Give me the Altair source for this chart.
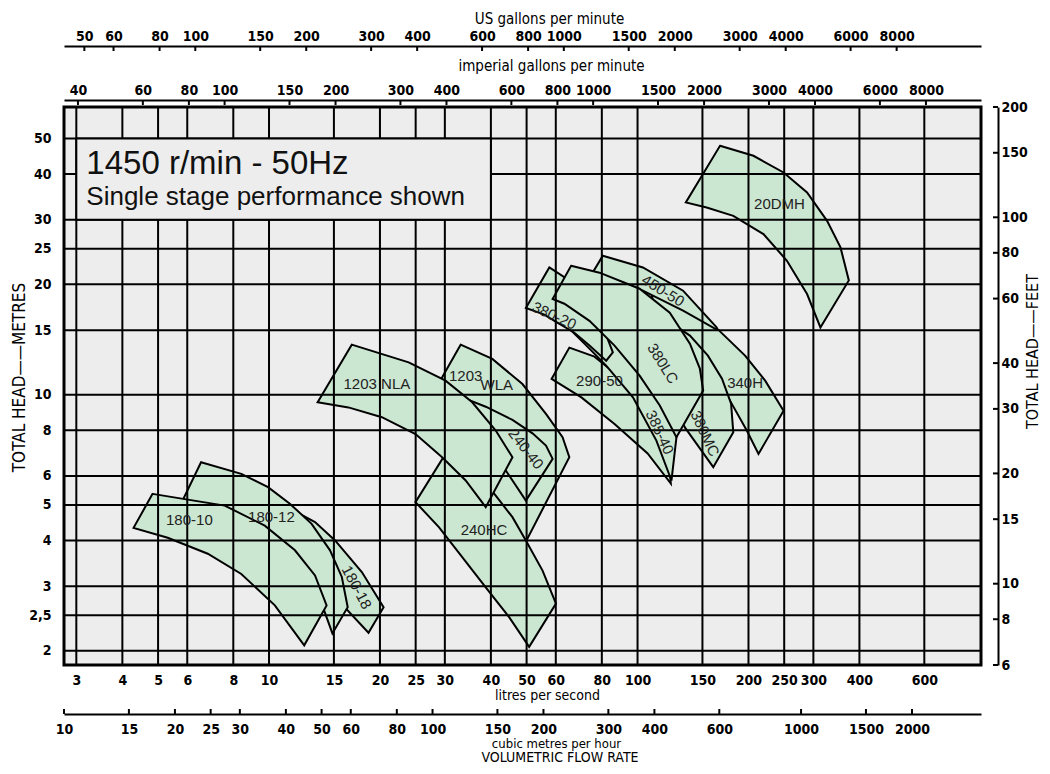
import altair as alt
import pandas as pd

# ---------------- unit conversions ----------------
LPS_PER_USGPM = 0.0630902
LPS_PER_IMPGPM = 0.0757682
LPS_PER_M3H = 1 / 3.6
M_PER_FT = 0.3048

# ---------------- axis tick values ----------------
LPS_TICKS = [3, 4, 5, 6, 8, 10, 15, 20, 25, 30, 40, 50, 60, 80, 100, 150, 200, 250, 300, 400, 600]
M3H_TICKS = [10, 15, 20, 25, 30, 40, 50, 60, 80, 100, 150, 200, 300, 400, 600, 1000, 1500, 2000]
USGPM_TICKS = [50, 60, 80, 100, 150, 200, 300, 400, 600, 800, 1000, 1500, 2000, 3000, 4000, 6000, 8000]
IMPGPM_TICKS = [40, 60, 80, 100, 150, 200, 300, 400, 600, 800, 1000, 1500, 2000, 3000, 4000, 6000, 8000]
HEAD_M_TICKS = [2, 2.5, 3, 4, 5, 6, 8, 10, 15, 20, 25, 30, 40, 50]
HEAD_FT_TICKS = [6, 8, 10, 15, 20, 30, 40, 60, 80, 100, 150, 200]

# ---------------- pump envelopes (flow l/s, head m) ----------------
Q_180_18 = [11.63, 13.33, 15.11, 17.86, 20.46, 18.62, 16.32, 14.95, 13.19, 12.0]
H_180_18 = [4.83, 4.49, 4.00, 3.28, 2.63, 2.24, 2.58, 3.01, 3.64, 4.05]
Q_180_12 = [6.54, 8.41, 9.94, 11.39, 13.05, 14.64, 15.76, 16.35, 14.86, 13.95, 12.46, 10.6, 8.5, 6.82, 5.83]
H_180_12 = [6.54, 6.08, 5.59, 5.04, 4.44, 3.76, 3.18, 2.63, 2.23, 2.66, 3.27, 3.88, 4.48, 4.95, 5.15]
Q_180_10 = [4.83, 7.58, 9.74, 11.76, 13.33, 14.33, 12.46, 10.37, 8.41, 6.82, 5.31, 4.29]
H_180_10 = [5.36, 4.98, 4.39, 3.76, 3.21, 2.66, 2.07, 2.66, 3.24, 3.68, 4.07, 4.33]
Q_1203WLA = [33.11, 40.36, 48.72, 56.43, 62.6, 65.3, 49.77, 42.1, 36.37, 31.74, 27.14]
H_1203WLA = [13.69, 12.52, 10.69, 8.86, 7.65, 6.75, 3.97, 4.98, 5.98, 7.26, 9.63]
Q_240HC = [31.09, 36.37, 41.23, 45.77, 49.77, 55.24, 60.07, 50.8, 44.83, 38.73, 33.44, 28.9, 24.97]
H_240HC = [7.26, 6.21, 5.30, 4.63, 4.00, 3.31, 2.69, 2.05, 2.47, 2.98, 3.60, 4.35, 5.09]
Q_240_40 = [33.44, 38.73, 45.77, 51.88, 56.43, 58.83, 49.77, 43.9, 38.73, 34.17]
H_240_40 = [9.83, 9.27, 8.53, 7.84, 7.26, 6.68, 5.14, 6.21, 7.41, 8.59]
Q_1203NLA = [16.77, 23.93, 30.13, 35.6, 41.23, 45.77, 38.73, 34.17, 29.49, 24.97, 20.24, 16.42, 13.55]
H_1203NLA = [13.69, 12.25, 10.92, 9.53, 7.98, 6.75, 4.93, 5.83, 6.75, 7.81, 8.68, 9.23, 9.53]
Q_340H = [107.9, 132.9, 163.9, 195.8, 222.0, 249.0, 212.9, 197.9, 178.2, 167.4, 147.6, 130.2, 111.3]
H_340H = [20.08, 18.28, 15.19, 12.78, 10.92, 9.04, 6.89, 7.98, 9.63, 10.92, 12.78, 14.49, 16.95]
Q_450_50 = [80.48, 103.4, 132.9, 163.9, 163.9, 132.9, 103.4, 78.83, 75.6]
H_450_50 = [23.94, 22.24, 19.22, 15.26, 15.05, 16.95, 19.22, 21.34, 21.56]
Q_380MC = [101.3, 118.5, 138.7, 155.2, 169.5, 179.4, 181.9, 160.5, 145.8, 134.4, 122.3, 107.9, 93.98]
H_380MC = [18.05, 16.12, 14.49, 12.78, 11.06, 9.45, 7.89, 6.34, 7.26, 8.14, 9.94, 12.0, 14.49]
Q_290_50 = [65.31, 76.4, 92.2, 107.9, 118.5, 122.3, 123.1, 106.5, 86.61, 70.41, 58.45]
H_290_50 = [13.44, 12.7, 10.92, 8.76, 7.04, 6.21, 5.72, 6.91, 8.32, 9.83, 11.04]
Q_385_40 = [65.31, 76.4, 92.2, 107.9, 122.3, 128.6, 123.6, 112.5, 97.17, 82.22, 71.75, 61.34]
H_385_40 = [19.22, 17.49, 14.95, 12.38, 9.94, 8.23, 5.83, 7.49, 9.83, 12.0, 13.78, 16.12]
Q_380_20 = [57.62, 65.31, 74.05, 81.34, 85.7, 82.22, 74.05, 67.4, 60.58, 55.83, 49.77]
H_380_20 = [22.24, 20.5, 17.49, 14.95, 13.04, 12.38, 13.61, 14.76, 15.72, 16.53, 17.24]
Q_380LC = [66.01, 78.83, 101.3, 122.3, 138.7, 147.6, 150.7, 127.5, 114.9, 101.3, 86.61, 74.05, 63.31, 58.83]
H_380LC = [22.47, 21.52, 19.46, 16.74, 13.78, 11.78, 10.26, 7.65, 9.34, 11.27, 13.61, 15.9, 17.71, 18.24]
Q_20DMH = [167.4, 206.3, 249.0, 288.4, 326.8, 355.4, 374.4, 313.5, 288.4, 254.3, 219.6, 181.9, 154.0, 135.2]
H_20DMH = [47.76, 44.86, 40.4, 35.62, 29.8, 25.23, 20.5, 15.26, 18.82, 23.2, 27.44, 30.77, 32.42, 33.46]

# drawing order: first = underneath
PUMPS = [
    ("180-18", Q_180_18, H_180_18),
    ("180-12", Q_180_12, H_180_12),
    ("180-10", Q_180_10, H_180_10),
    ("1203 WLA", Q_1203WLA, H_1203WLA),
    ("240HC", Q_240HC, H_240HC),
    ("240-40", Q_240_40, H_240_40),
    ("1203 NLA", Q_1203NLA, H_1203NLA),
    ("340H", Q_340H, H_340H),
    ("450-50", Q_450_50, H_450_50),
    ("380MC", Q_380MC, H_380MC),
    ("290-50", Q_290_50, H_290_50),
    ("385-40", Q_385_40, H_385_40),
    ("380-20", Q_380_20, H_380_20),
    ("380LC", Q_380LC, H_380LC),
    ("20DMH", Q_20DMH, H_20DMH),
]

# ---------------- envelope labels ----------------
LABEL_TEXT = ["180-10", "180-12", "180-18", "1203 NLA", "1203", "WLA", "240-40", "240HC", "20DMH",
              "450-50", "340H", "380LC", "380MC", "385-40", "290-50", "380-20"]
LABEL_Q = [6.08, 10.15, 17.3, 19.62, 34.17, 41.5, 49.77, 38.32, 242.8,
           117.3, 195.8, 117.1, 152.3, 114.9, 78.83, 59.44]
LABEL_H = [4.56, 4.63, 2.98, 10.69, 11.22, 10.65, 7.11, 4.28, 33.24,
           19.22, 10.78, 12.15, 7.83, 7.89, 10.92, 16.42]
LABEL_ANGLE = [0, 0, 62, 0, 0, 0, 52, 0, 0,
               32, 0, 58, 65, 65, 0, 25]

# ---------------- styling ----------------
GREEN = "#cbe6d1"
BG = "#ededed"
AXF = "Liberation Sans Narrow, DejaVu Sans Condensed, sans-serif"
TXF = "Liberation Sans, Arial, sans-serif"
W, H = 917, 558

xs = alt.Scale(type="log", domain=[10 * LPS_PER_M3H, 855], nice=False)
ys = alt.Scale(type="log", domain=[6 * M_PER_FT, 200 * M_PER_FT], nice=False)

lab = dict(labelFont=AXF, labelFontSize=14, labelFontWeight="bold", labelColor="black",
           labelFlush=False, labelOverlap=False, labelBound=False,
           titleFont=AXF, titleColor="black", grid=False)

rows = []
for k, (name, qs, hs) in enumerate(PUMPS):
    for i, (q, h) in enumerate(zip(qs, hs)):
        rows.append({"pid": f"{k:02d}", "name": name, "i": i, "q": q, "h": h})
poly_df = pd.DataFrame(rows)

polys = alt.Chart(poly_df).mark_line(
    interpolate="linear-closed", fill=GREEN, stroke="black", strokeWidth=2, strokeJoin="miter"
).encode(
    x=alt.X("q:Q", scale=xs, axis=alt.Axis(
        orient="bottom", values=LPS_TICKS, domain=False, ticks=False, labelPadding=8,
        format="~g", title="litres per second", titleX=483, titleY=30, titleFontSize=14,
        titleFontWeight="normal", titleBaseline="middle", titleAlign="center", **lab)),
    y=alt.Y("h:Q", scale=ys, axis=alt.Axis(
        orient="left", values=HEAD_M_TICKS, domain=False, ticks=False, labelPadding=13,
        labelExpr="datum.value == 2.5 ? '2,5' : format(datum.value, '~g')",
        title="TOTAL HEAD——METRES", titleAngle=270, titleX=-45, titleY=270,
        titleFontSize=17, titleFontWeight="normal", titleBaseline="middle",
        titleAlign="center", **lab)),
    detail="pid:N",
    order="i:Q",
)

vgrid = alt.Chart(pd.DataFrame({"v": LPS_TICKS})).mark_rule(color="black", strokeWidth=2).encode(
    x=alt.X("v:Q", scale=xs, axis=None))
hgrid = alt.Chart(pd.DataFrame({"v": HEAD_M_TICKS})).mark_rule(color="black", strokeWidth=2).encode(
    y=alt.Y("v:Q", scale=ys, axis=None))

box = alt.Chart(pd.DataFrame({"x1": [3], "x2": [40], "y1": [30], "y2": [50]})).mark_rect(
    fill=BG, stroke="black", strokeWidth=2).encode(
    x=alt.X("x1:Q", scale=xs, axis=None), x2="x2:Q",
    y=alt.Y("y1:Q", scale=ys, axis=None), y2="y2:Q")

head1 = alt.Chart(pd.DataFrame({"x": [3], "y": [40], "t": ["1450 r/min - 50Hz"]})).mark_text(
    align="left", baseline="alphabetic", font=TXF, fontSize=33, dx=10, color="#111").encode(
    x=alt.X("x:Q", scale=xs, axis=None), y=alt.Y("y:Q", scale=ys, axis=None), text="t:N")
head2 = alt.Chart(pd.DataFrame({"x": [3], "y": [33], "t": ["Single stage performance shown"]})).mark_text(
    align="left", baseline="alphabetic", font=TXF, fontSize=26, dx=10, color="#111").encode(
    x=alt.X("x:Q", scale=xs, axis=None), y=alt.Y("y:Q", scale=ys, axis=None), text="t:N")

labels = alt.Chart(pd.DataFrame({"t": LABEL_TEXT, "q": LABEL_Q, "h": LABEL_H, "a": LABEL_ANGLE})).mark_text(
    font=TXF, fontSize=15, color="#222", align="center", baseline="middle").encode(
    x=alt.X("q:Q", scale=xs, axis=None), y=alt.Y("h:Q", scale=ys, axis=None),
    text="t:N", angle=alt.Angle("a:Q", scale=None))

# secondary axes: each carried by its own tick layer
us_ticks = alt.Chart(pd.DataFrame({"v": [t * LPS_PER_USGPM for t in USGPM_TICKS]})).mark_rule(
    color="black", strokeWidth=2).encode(
    x=alt.X("v:Q", scale=xs, axis=alt.Axis(
        orient="top", offset=61, values=[t * LPS_PER_USGPM for t in USGPM_TICKS],
        domain=True, domainColor="black", domainWidth=2, ticks=False, labelPadding=3,
        labelExpr="format(round(datum.value / 0.0630902), 'd')",
        title="US gallons per minute", titleX=485, titleY=-28, titleFontSize=15,
        titleFontWeight="normal", titleBaseline="middle", titleAlign="center", **lab)),
    y=alt.value(-61), y2=alt.value(-56))

imp_ticks = alt.Chart(pd.DataFrame({"v": [t * LPS_PER_IMPGPM for t in IMPGPM_TICKS]})).mark_rule(
    color="black", strokeWidth=2).encode(
    x=alt.X("v:Q", scale=xs, axis=alt.Axis(
        orient="top", offset=7, values=[t * LPS_PER_IMPGPM for t in IMPGPM_TICKS],
        domain=True, domainColor="black", domainWidth=2, ticks=False, labelPadding=3,
        labelExpr="format(round(datum.value / 0.0757682), 'd')",
        title="imperial gallons per minute", titleX=487, titleY=-35, titleFontSize=15,
        titleFontWeight="normal", titleBaseline="middle", titleAlign="center", **lab)),
    y=alt.value(-7), y2=alt.value(-2))

m3h_ticks = alt.Chart(pd.DataFrame({"v": [t * LPS_PER_M3H for t in M3H_TICKS]})).mark_rule(
    color="black", strokeWidth=2).encode(
    x=alt.X("v:Q", scale=xs, axis=alt.Axis(
        orient="bottom", offset=49, values=[t * LPS_PER_M3H for t in M3H_TICKS],
        domain=True, domainColor="black", domainWidth=2, ticks=False, labelPadding=8,
        labelExpr="format(round(datum.value * 3.6), 'd')",
        title="cubic metres per hour", titleX=492, titleY=29, titleFontSize=13,
        titleFontWeight="normal", titleBaseline="middle", titleAlign="center", **lab)),
    y=alt.value(H + 44), y2=alt.value(H + 49))

ft_ticks = alt.Chart(pd.DataFrame({"v": [t * M_PER_FT for t in HEAD_FT_TICKS]})).mark_rule(
    color="black", strokeWidth=2).encode(
    y=alt.Y("v:Q", scale=ys, axis=alt.Axis(
        orient="right", offset=17, values=[t * M_PER_FT for t in HEAD_FT_TICKS],
        domain=True, domainColor="black", domainWidth=2, ticks=False, labelPadding=3,
        labelExpr="format(round(datum.value / 0.3048), 'd')",
        title="TOTAL HEAD——FEET", titleAngle=270, titleX=34, titleY=244, titleFontSize=16,
        titleFontWeight="normal", titleBaseline="middle", titleAlign="center", **lab)),
    x=alt.value(W + 12), x2=alt.value(W + 17))

vfr = alt.Chart(pd.DataFrame({"t": ["VOLUMETRIC FLOW RATE"]})).mark_text(
    font=AXF, fontSize=14, color="black", align="center", baseline="middle").encode(
    text="t:N", x=alt.value(496), y=alt.value(H + 93))

chart = alt.layer(
    polys, vgrid, hgrid, box, head1, head2, labels, us_ticks, imp_ticks, m3h_ticks, ft_ticks, vfr
).resolve_axis(x="independent", y="independent").properties(
    width=W, height=H,
    autosize=alt.AutoSizeParams(type="none"),
    padding={"left": 56, "top": 99, "right": 61, "bottom": 101},
    background="white",
).configure_view(fill=BG, stroke="black", strokeWidth=3)

chart.save("out.html", embed_options={"renderer": "svg", "actions": False})
